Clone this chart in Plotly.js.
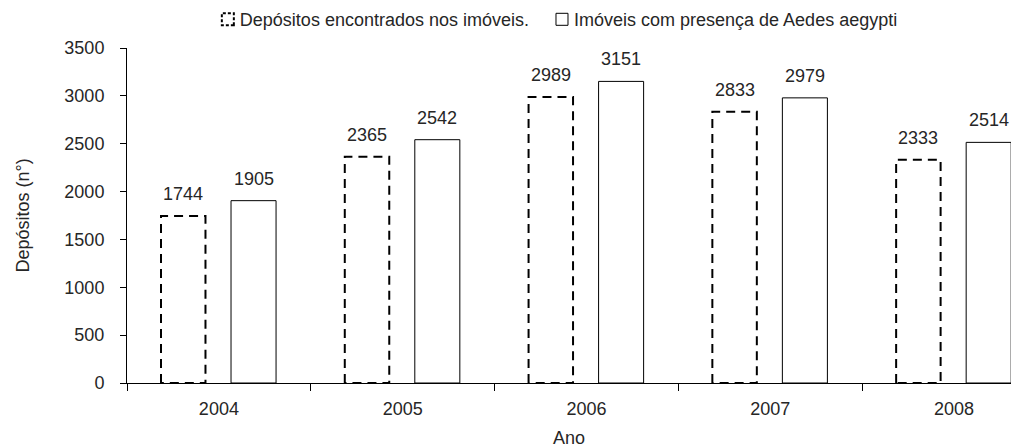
<!DOCTYPE html>
<html><head><meta charset="utf-8">
<script src="https://cdn.plot.ly/plotly-3.0.1.min.js"></script>
<style>html,body{margin:0;padding:0;background:#fff}</style>
</head><body><div id="chart" style="width:1011px;height:448px"></div>
<script>
const years = ['2004', '2005', '2006', '2007', '2008'];
const depositos = [1744, 2365, 2989, 2833, 2333];
const imoveis = [1905, 2542, 3151, 2979, 2514];
const seriesNames = ['Depósitos encontrados nos imóveis.', 'Imóveis com presença de Aedes aegypti'];
const yTicks = [0, 500, 1000, 1500, 2000, 2500, 3000, 3500];

const FONT = 'Liberation Sans, Arial, sans-serif';
const TXT = '#262626';
const off1 = -0.315, w1 = 0.242;
const off2 = 0.066, w2 = 0.245;

const traces = [
  {type: 'bar', name: seriesNames[0], x: years, y: depositos, offset: off1, width: w1,
   marker: {color: '#ffffff', line: {color: '#000000', width: 2}}, hoverinfo: 'none'},
  {type: 'bar', name: seriesNames[1], x: years, y: imoveis, offset: off2, width: w2,
   marker: {color: '#ffffff', line: {color: '#000000', width: 1}}, hoverinfo: 'none'}
];

const annotations = [];
years.forEach((yr, i) => {
  annotations.push({x: i + off1 + w1 / 2, y: depositos[i], xref: 'x', yref: 'y', text: String(depositos[i]),
    showarrow: false, yanchor: 'bottom', yshift: 10, font: {family: FONT, size: 18, color: TXT}});
  annotations.push({x: i + off2 + w2 / 2, y: imoveis[i], xref: 'x', yref: 'y', text: String(imoveis[i]),
    showarrow: false, yanchor: 'bottom', yshift: 10, font: {family: FONT, size: 18, color: TXT}});
});

const layout = {
  width: 1011, height: 448,
  margin: {l: 127, r: 0, t: 48, b: 65, pad: 0, autoexpand: false},
  paper_bgcolor: '#ffffff', plot_bgcolor: '#ffffff',
  font: {family: FONT, size: 18, color: TXT},
  showlegend: true,
  legend: {orientation: 'h', x: 0.0824, xanchor: 'left', y: 1.140, yanchor: 'top',
    font: {family: FONT, size: 18, color: TXT}, bgcolor: 'rgba(0,0,0,0)', itemwidth: 30, traceorder: 'normal'},
  barmode: 'group',
  xaxis: {type: 'category', range: [-0.5, 4.31], tickson: 'boundaries', ticks: 'outside', ticklen: 7,
    tickcolor: '#000', tickwidth: 1, showline: true, linecolor: '#000', linewidth: 1,
    showgrid: false, zeroline: false, ticklabelstandoff: 9,
    title: {text: 'Ano', font: {family: FONT, size: 18, color: TXT}, standoff: 19}},
  yaxis: {range: [0, 3500], tickvals: yTicks, ticks: 'outside', ticklen: 6, tickcolor: '#000', tickwidth: 1,
    showline: true, linecolor: '#000', linewidth: 1, showgrid: false, zeroline: false,
    ticklabelstandoff: 12,
    title: {text: 'Depósitos (n°)', font: {family: FONT, size: 18, color: TXT}, standoff: 30}},
  annotations: annotations
};

Plotly.newPlot('chart', traces, layout, {displayModeBar: false, staticPlot: true}).then(gd => {
  const tr = gd.querySelectorAll('.barlayer .trace');
  if (tr[0]) tr[0].querySelectorAll('path').forEach(p => { p.style.strokeDasharray = '9px,6px'; });
  const lg = gd.querySelectorAll('.legend .traces');
  lg.forEach(t => { const lp = t.querySelector('.legendpoints'); if (lp) lp.setAttribute('transform', 'translate(8,0)'); });
  if (lg[0]) lg[0].querySelectorAll('.legendpoints path').forEach(p => { p.style.strokeDasharray = '3px,2px'; });
});
</script></body></html>
